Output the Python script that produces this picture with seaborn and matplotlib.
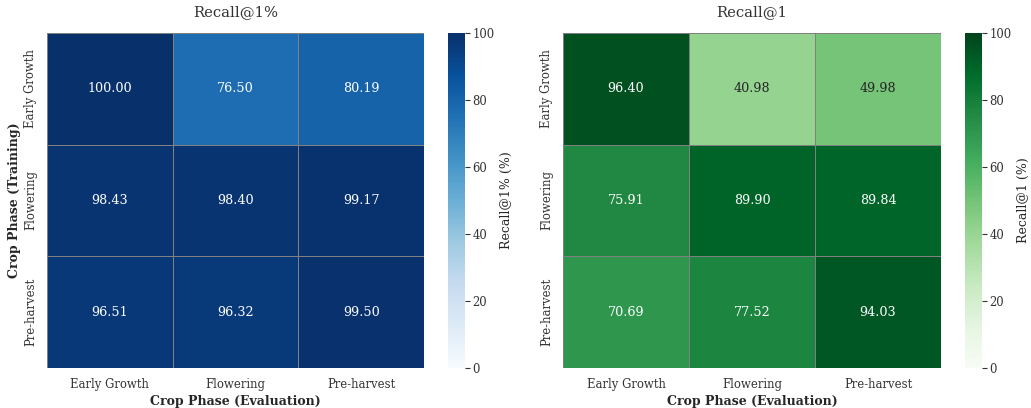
import numpy as np
import pandas as pd
import matplotlib
matplotlib.use("Agg")
import matplotlib.pyplot as plt
import seaborn as sns

phases = ["Early Growth", "Flowering", "Pre-harvest"]

recall_1pct = [
    [100.00, 76.50, 80.19],
    [98.43, 98.40, 99.17],
    [96.51, 96.32, 99.50],
]
recall_1 = [
    [96.40, 40.98, 49.98],
    [75.91, 89.90, 89.84],
    [70.69, 77.52, 94.03],
]

sns.set_theme(style="ticks", font="DejaVu Serif")
plt.rcParams["font.family"] = ["DejaVu Serif"]
plt.rcParams["text.color"] = "#333333"
plt.rcParams["axes.labelcolor"] = "#262626"
plt.rcParams["xtick.color"] = "#333333"
plt.rcParams["ytick.color"] = "#333333"

W, H = 1031, 408
fig = plt.figure(figsize=(W / 100, H / 100), dpi=100)


def box(x0, x1, y0, y1):
    return [x0 / W, 1 - y1 / H, (x1 - x0) / W, (y1 - y0) / H]


heat_axes = [fig.add_axes(box(47, 424, 33, 368)), fig.add_axes(box(563, 941, 33, 368))]
cbar_axes = [fig.add_axes(box(448, 465, 33, 368)), fig.add_axes(box(965, 982, 33, 368))]

panels = [
    (recall_1pct, "Blues", "Recall@1%", "Recall@1% (%)"),
    (recall_1, "Greens", "Recall@1", "Recall@1 (%)"),
]

for i, (vals, cmap, title, cbar_label) in enumerate(panels):
    ax = heat_axes[i]
    df = pd.DataFrame(vals, index=phases, columns=phases)
    sns.heatmap(
        df, ax=ax, cbar_ax=cbar_axes[i], cmap=cmap, vmin=0, vmax=100,
        annot=True, fmt=".2f", linewidths=0.6, linecolor="gray",
        annot_kws={"fontsize": 9.2},
        cbar_kws={"label": cbar_label},
    )
    ax.set_title(title, fontsize=10.6, pad=12)
    ax.set_xlabel("Crop Phase (Evaluation)", fontsize=9, fontweight="bold", labelpad=3)
    if i == 0:
        ax.set_ylabel("Crop Phase (Training)", fontsize=9, fontweight="bold", labelpad=2)
    else:
        ax.set_ylabel("")
    ax.tick_params(axis="both", length=0, labelsize=8.4, pad=7)
    ax.set_yticklabels(phases, rotation=90, va="center")
    cax = cbar_axes[i]
    cax.tick_params(labelsize=8.4, length=3.5, width=0.8, pad=2)
    cax.yaxis.label.set_size(9)
    cax.yaxis.labelpad = 4

fig.savefig("out.png", dpi=100)
